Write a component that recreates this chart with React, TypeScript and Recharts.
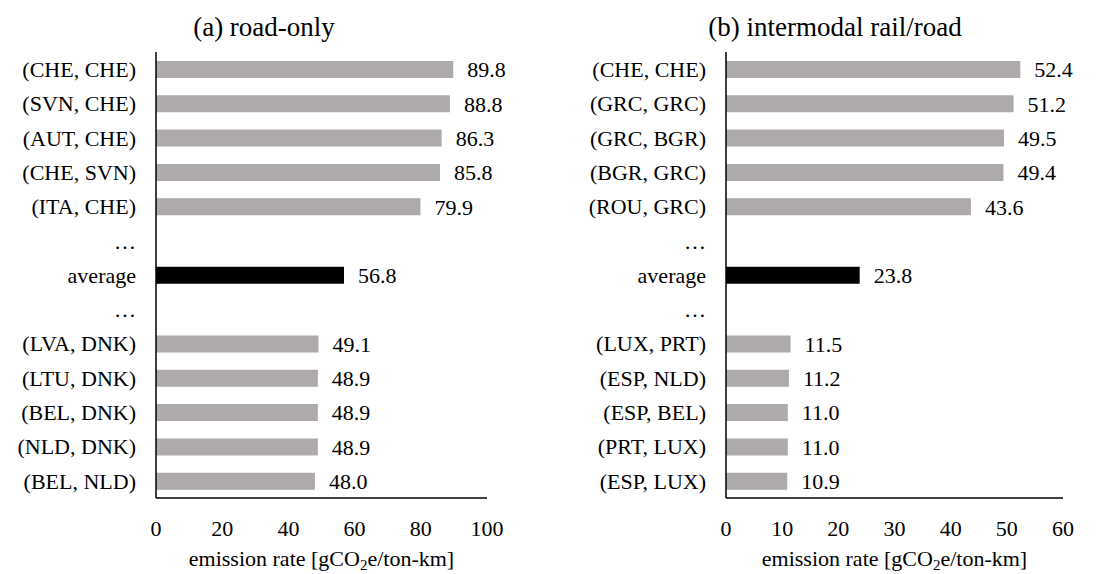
import React from "react";
import { BarChart, Bar, XAxis, YAxis, Cell, LabelList } from "recharts";

const FONT = "'Liberation Serif', 'Times New Roman', serif";
const GRAY = "#AEAAAA";

// (a) road-only
const roadCategories = [
  "(CHE, CHE)", "(SVN, CHE)", "(AUT, CHE)", "(CHE, SVN)", "(ITA, CHE)",
  "…", "average", "…",
  "(LVA, DNK)", "(LTU, DNK)", "(BEL, DNK)", "(NLD, DNK)", "(BEL, NLD)",
];
const roadValues = [89.8, 88.8, 86.3, 85.8, 79.9, null, 56.8, null, 49.1, 48.9, 48.9, 48.9, 48.0];
const roadTicks = [0, 20, 40, 60, 80, 100];

// (b) intermodal rail/road
const railCategories = [
  "(CHE, CHE)", "(GRC, GRC)", "(GRC, BGR)", "(BGR, GRC)", "(ROU, GRC)",
  "…", "average", "…",
  "(LUX, PRT)", "(ESP, NLD)", "(ESP, BEL)", "(PRT, LUX)", "(ESP, LUX)",
];
const railValues = [52.4, 51.2, 49.5, 49.4, 43.6, null, 23.8, null, 11.5, 11.2, 11.0, 11.0, 10.9];
const railTicks = [0, 10, 20, 30, 40, 50, 60];

const textStyle: React.CSSProperties = { fontFamily: FONT };

const AxisTitle = (props: any) => {
  const vb = props.viewBox || { x: 0, y: 0, width: 0, height: 0 };
  return (
    <text
      x={vb.x + vb.width / 2}
      y={vb.y + 68}
      textAnchor="middle"
      style={textStyle}
      fontSize={22}
      fill="#000"
    >
      emission rate [gCO
      <tspan fontSize={15} dy={4}>2</tspan>
      <tspan dy={-4}>e/ton-km]</tspan>
    </text>
  );
};

interface PanelProps {
  categories: string[];
  values: (number | null)[];
  ticks: number[];
  max: number;
  axisWidth: number;
  rightMargin: number;
}

function Panel({ categories, values, ticks, max, axisWidth, rightMargin }: PanelProps) {
  const data = categories.map((name, i) => ({ name, value: values[i] }));
  return (
    <BarChart
      width={555}
      height={574}
      data={data}
      layout="vertical"
      margin={{ top: 52, right: rightMargin, bottom: 0, left: 0 }}
      barSize={17}
      style={textStyle}
    >
      <XAxis
        type="number"
        domain={[0, max]}
        ticks={ticks}
        height={76}
        tickLine={false}
        tickSize={0}
        tickMargin={22}
        axisLine={{ stroke: "#000", strokeWidth: 1.5 }}
        tick={{ fill: "#000", fontSize: 22, style: textStyle }}
        label={<AxisTitle />}
      />
      <YAxis
        type="category"
        dataKey="name"
        width={axisWidth}
        interval={0}
        tickLine={false}
        tickSize={0}
        tickMargin={20}
        axisLine={{ stroke: "#000", strokeWidth: 1.5 }}
        tick={{ fill: "#000", fontSize: 22, style: textStyle }}
      />
      <Bar dataKey="value" isAnimationActive={false}>
        {data.map((d, i) => (
          <Cell key={i} fill={d.name === "average" ? "#000" : GRAY} />
        ))}
        <LabelList
          dataKey="value"
          position="right"
          offset={14}
          fill="#000"
          fontSize={22}
          style={textStyle}
          formatter={(v: any) => (v == null ? "" : Number(v).toFixed(1))}
        />
      </Bar>
    </BarChart>
  );
}

const titleStyle: React.CSSProperties = {
  position: "absolute",
  top: 12,
  width: 400,
  textAlign: "center",
  fontFamily: FONT,
  fontSize: 27,
  lineHeight: "30px",
  color: "#000",
};

export default function App() {
  return (
    <div style={{ position: "absolute", left: 0, top: 0, width: 1110, height: 574, background: "#fff", fontFamily: FONT }}>
      <div style={{ position: "absolute", left: 0, top: 0, display: "flex" }}>
        <Panel categories={roadCategories} values={roadValues} ticks={roadTicks} max={100} axisWidth={156} rightMargin={68} />
        <Panel categories={railCategories} values={railValues} ticks={railTicks} max={60} axisWidth={171} rightMargin={47} />
      </div>
      <div style={{ ...titleStyle, left: 264 - 200 }}>(a) road-only</div>
      <div style={{ ...titleStyle, left: 835 - 200 }}>(b) intermodal rail/road</div>
    </div>
  );
}
